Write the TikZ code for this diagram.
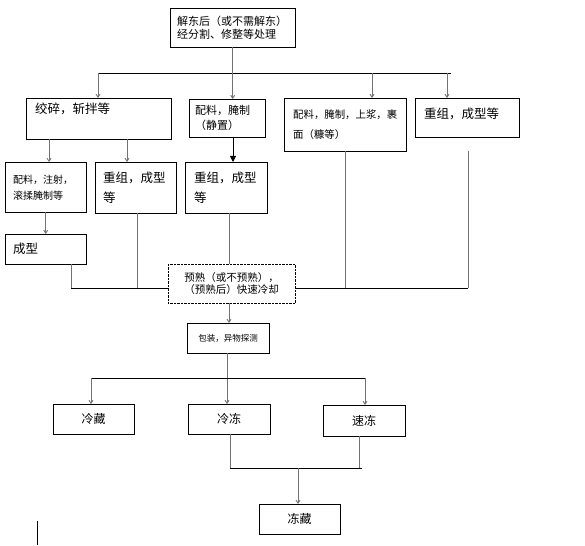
\documentclass[tikz,border=0pt]{standalone}
\usepackage{fontspec}
\setmainfont{Noto Sans CJK SC}
\usetikzlibrary{arrows.meta}
\begin{document}
\begin{tikzpicture}[x=1pt, y=-1pt,
    box/.style={draw, anchor=north west, inner ysep=0pt, align=left},
    mid/.style={draw, anchor=north west, inner sep=0pt, align=center},
    wire/.style={draw=black!55, line width=0.9pt},
    bus/.style={line width=0.6pt},
    arr/.style={wire, -{Straight Barb[length=3pt, width=4pt]}},
    tri/.style={wire, draw=black, -{Triangle[length=6pt, width=6pt]}}]
    \useasboundingbox (0,0) rectangle (585,545);
    %\draw[thin, dashed] (0,0) rectangle (585,545);
    \node[box, inner xsep=7pt, text width=111pt, minimum height=39pt, font=\fontsize{11}{13}\selectfont] (thaw) at (170,8) {解东后（或不需解东）\\经分割、修整等处理};
    % second row
    \node[box, inner xsep=9pt, text width=127pt, minimum height=41pt, text depth=20pt, font=\fontsize{12.5}{15}\selectfont] (grind) at (26,98) {绞碎，斩拌等};
    \node[box, inner xsep=6pt, text width=64pt, minimum height=38pt, font=\fontsize{11}{15}\selectfont] (cure) at (189,99) {配料，腌制\\（静置）};
    \node[box, inner xsep=9pt, text width=104pt, minimum height=53pt, font=\fontsize{10.4}{20}\selectfont] (coat) at (284,98) {配料，腌制，上浆，裹\\面（糠等）};
    \node[box, inner xsep=9pt, text width=86pt, minimum height=39pt, text depth=8pt, font=\fontsize{12.5}{15}\selectfont] (form4) at (415,98) {重组，成型等};
    % third row
    \node[box, inner xsep=8pt, text width=65pt, minimum height=50pt, font=\fontsize{10}{16}\selectfont] (inject) at (5,162) {配料，注射，\\滚揉腌制等};
    \node[box, inner xsep=8pt, text width=65pt, minimum height=51pt, font=\fontsize{12.5}{20}\selectfont] (form2) at (95,162) {重组，成型\\等};
    \node[box, inner xsep=9pt, text width=64pt, minimum height=51pt, font=\fontsize{12.5}{20}\selectfont] (form3) at (185,162) {重组，成型\\等};
    \node[box, inner xsep=8pt, text width=65pt, minimum height=30pt, font=\fontsize{12.5}{15}\selectfont] (shape) at (5,234) {成型};
    \node[mid, densely dotted, minimum width=127pt, minimum height=39pt, font=\fontsize{10.5}{11.5}\selectfont] (precook) at (168,264) {预熟（或不预熟），\\（预熟后）快速冷却};
    \node[mid, minimum width=82pt, minimum height=30pt, font=\fontsize{8.5}{10}\selectfont] (pack) at (187,323) {包装，异物探测};
    % storage
    \node[mid, minimum width=81pt, minimum height=30pt, font=\fontsize{12}{14}\selectfont] (chill) at (53,404) {冷藏};
    \node[mid, minimum width=82pt, minimum height=30pt, font=\fontsize{12}{14}\selectfont] (freeze) at (188,404) {冷冻};
    \node[mid, minimum width=82pt, minimum height=31pt, font=\fontsize{12}{14}\selectfont] (quick) at (323,405) {速冻};
    \node[mid, minimum width=81pt, minimum height=30pt, font=\fontsize{12}{14}\selectfont] (store) at (259,504) {冻藏};
    % junctions
    \coordinate (busA) at (98,73);
    \coordinate (busB) at (451,73);
    \coordinate (t3) at (372,73);
    \coordinate (t4) at (447,73);
    \coordinate (g1) at (49,0);
    \coordinate (g2) at (127,0);
    \coordinate (g3) at (233,0);
    \coordinate (g4) at (229,0);
    \coordinate (g5) at (227,0);
    \coordinate (c1) at (71,288);
    \coordinate (c2) at (137,288);
    \coordinate (c3) at (345,288);
    \coordinate (c4) at (468,288);
    \coordinate (busE) at (91,378);
    \coordinate (busF) at (365,378);
    \coordinate (busG) at (230,468);
    \coordinate (busH) at (362,468);
    \coordinate (q1) at (359,468);
    \coordinate (s1) at (298,468);
    % top split
    \draw[wire] (thaw) -- (thaw |- busA);
    \draw[bus] (busA) -- (busB);
    \draw[arr] (busA) -- (busA |- grind.north);
    \draw[arr] (thaw |- busA) -- (thaw |- cure.north);
    \draw[arr] (t3) -- (t3 |- coat.north);
    \draw[arr] (t4) -- (t4 |- form4.north);
    % middle
    \draw[arr] (grind.south -| g1) -- (inject.north -| g1);
    \draw[arr] (grind.south -| g2) -- (form2.north -| g2);
    \draw[tri] (cure.south -| g3) -- (form3.north -| g3);
    \draw[arr] (inject) -- (shape);
    \draw[wire] (shape.south -| c1) -- (c1);
    \draw[wire] (form2.south -| c2) -- (c2);
    \draw[wire] (coat.south -| c3) -- (c3);
    \draw[wire] (c4 |- coat.south) -- (c4);
    \draw[bus] (c1) -- (c1 -| precook.west);
    \draw[bus] (c4 -| precook.east) -- (c4);
    \draw[wire] (form3.south -| g4) -- (precook.north -| g4);
    \draw[arr] (precook.south -| g4) -- (pack.north -| g4);
    % bottom split
    \draw[arr] (pack.south -| g5) -- (freeze.north -| g5);
    \draw[bus] (busE) -- (busF);
    \draw[arr] (busE) -- (chill.north -| busE);
    \draw[arr] (busF) -- (quick.north -| busF);
    \draw[wire] (freeze.south -| busG) -- (busG);
    \draw[wire] (quick.south -| q1) -- (q1);
    \draw[bus] (busG) -- (busH);
    \draw[arr] (s1) -- (store.north -| s1);
    \draw (37,521) -- (37,545);
\end{tikzpicture}
\end{document}
